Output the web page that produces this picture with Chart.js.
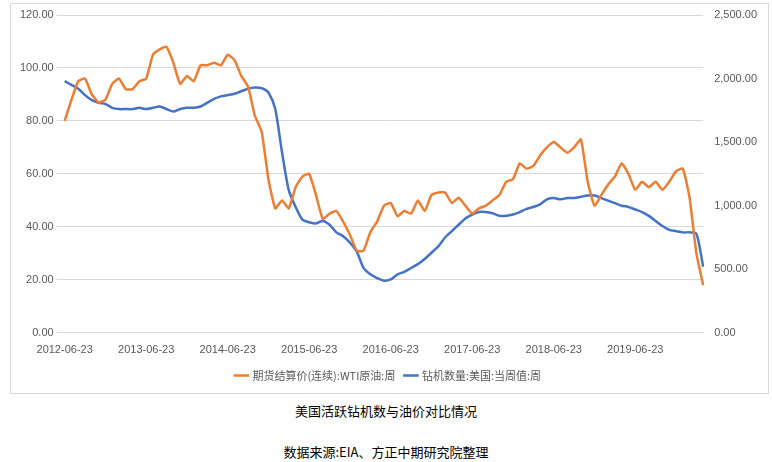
<!DOCTYPE html>
<html><head><meta charset="utf-8">
<script src="https://cdn.jsdelivr.net/npm/chart.js@4"></script>
<style>
body{margin:0;background:#fff;font-family:"Noto Sans CJK SC",sans-serif;}
#box{position:absolute;left:10px;top:3px;width:757px;height:389px;border:1px solid #d9d9d9;}
.t{position:absolute;left:0;width:772px;text-align:center;font-size:13px;color:#000;}
</style></head><body>
<div id="box"><canvas id="c" width="757" height="389"></canvas></div>
<div class="t" style="top:401px">美国活跃钻机数与油价对比情况</div>
<div class="t" style="top:442px">数据来源:EIA、方正中期研究院整理</div>
<script>
const startYear=2012,startMonth=6;
const labels=[];for(let i=0;i<95;i++){const m=(startMonth-1+i)%12+1,y=startYear+Math.floor((startMonth-1+i)/12);labels.push(y+'-'+String(m).padStart(2,'0')+'-23');}
const oil=[80,88,95,96,90,87,88,
94,96,92,92,95,96,105,107,108,102,94,97,
95,101,101,102,101,105,103,97,93,82,76,58,
47,50,47,55,59,60,52,43,45,46,42,37,
31,31,38,42,48,49,44,46,45,50,46,52,
53,53,49,51,48,45,47,48,50,52,57,58,
64,62,63,67,70,72,70,68,70,73,57,48,
52,56,59,64,60,54,57,55,57,54,57,61,
62,51,30,18];
const rigs=[1980,1950,1920,1870,1830,1810,1800,
1770,1760,1760,1760,1770,1760,1770,1780,1760,1740,1760,1770,
1770,1780,1810,1840,1860,1870,1880,1900,1920,1930,1925,1890,
1760,1420,1120,990,890,870,860,880,850,790,760,710,
640,510,460,430,410,420,460,480,510,540,580,630,
680,750,800,850,900,930,950,950,940,920,920,930,
950,975,990,1010,1050,1060,1050,1060,1060,1070,1080,1080,
1060,1040,1020,1000,990,970,950,920,880,840,810,800,
790,790,780,520];
new Chart(document.getElementById('c'),{type:'line',
data:{labels,datasets:[
{label:'期货结算价(连续):WTI原油:周',data:oil,borderColor:'#ED7D31',backgroundColor:'#ED7D31',borderWidth:2.5,pointRadius:0,tension:0.15,yAxisID:'y'},
{label:'钻机数量:美国:当周值:周',data:rigs,borderColor:'#4472C4',backgroundColor:'#4472C4',borderWidth:2.5,pointRadius:0,tension:0.25,yAxisID:'y1'}]},
options:{responsive:false,animation:false,
layout:{padding:{left:6,right:8,top:11,bottom:2}},
plugins:{legend:{position:'bottom',labels:{usePointStyle:true,pointStyle:'line',boxWidth:24,color:'#595959',font:{size:11,family:'"Noto Sans CJK SC"'}}}},
scales:{
x:{grid:{display:false},border:{color:'#d9d9d9'},ticks:{autoSkip:false,maxRotation:0,color:'#595959',font:{size:11},callback:(v,i)=>i%12===0?labels[i]:''}},
y:{min:0,max:120,ticks:{stepSize:20,color:'#595959',font:{size:11},callback:v=>v.toFixed(2)},grid:{color:'#d9d9d9'},border:{display:false}},
y1:{position:'right',min:0,max:2500,ticks:{stepSize:500,color:'#595959',font:{size:11},callback:v=>v.toLocaleString('en-US',{minimumFractionDigits:2})},grid:{display:false},border:{display:false}}
}}});
</script></body></html>
